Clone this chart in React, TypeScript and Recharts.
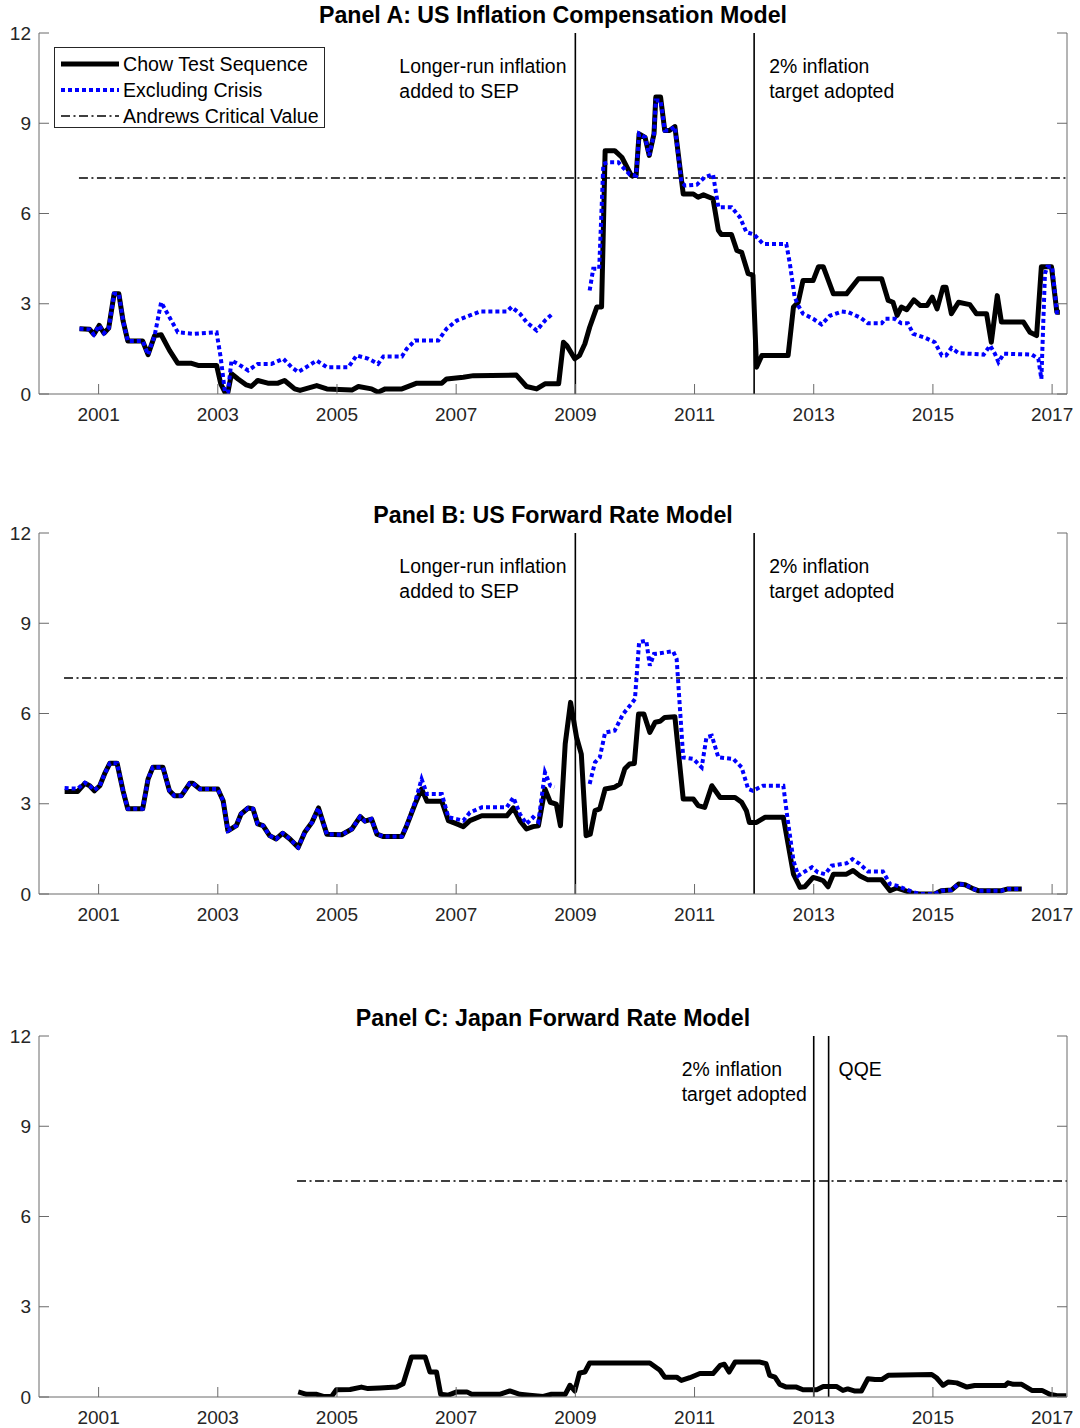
import React from "react";
import { ComposedChart, Line, XAxis, YAxis, ReferenceLine, Legend } from "recharts";

type Pt = [number, number | null];

const FONT = '"Liberation Sans", Arial, Helvetica, sans-serif';
const AXIS = "#6a6a6a";
const TEXT = "#262626";
const BLUE = "#0000ff";

const YEAR_TICKS = [2001, 2003, 2005, 2007, 2009, 2011, 2013, 2015, 2017];
const VALUE_TICKS = [0, 3, 6, 9, 12];
const X_DOMAIN: [number, number] = [2000, 2017.25];
const Y_DOMAIN: [number, number] = [0, 12];

// Andrews (1993) sup-Wald critical value and the span it is drawn over
const ANDREWS_CV = 7.18;
const CV_END = 2017.25;

// Panel A: inflation compensation model
const chowA: Pt[] = [
  [2000.68, 2.17], [2000.85, 2.15], [2000.92, 1.98], [2001.01, 2.28], [2001.09, 2.02],
  [2001.17, 2.19], [2001.26, 3.33], [2001.34, 3.33], [2001.41, 2.44], [2001.49, 1.76],
  [2001.74, 1.76], [2001.83, 1.31], [2001.94, 1.94], [2002.05, 1.97], [2002.19, 1.45],
  [2002.33, 1.02], [2002.56, 1.02], [2002.67, 0.95], [2002.98, 0.95], [2003.05, 0.34],
  [2003.12, 0.06], [2003.17, 0.06], [2003.23, 0.67], [2003.34, 0.5], [2003.48, 0.3],
  [2003.56, 0.25], [2003.67, 0.45], [2003.84, 0.36], [2004.01, 0.36], [2004.12, 0.45],
  [2004.29, 0.17], [2004.38, 0.12], [2004.66, 0.28], [2004.83, 0.17], [2005.25, 0.13],
  [2005.36, 0.25], [2005.58, 0.17], [2005.69, 0.06], [2005.81, 0.17], [2006.09, 0.17],
  [2006.34, 0.36], [2006.76, 0.36], [2006.84, 0.5], [2007.12, 0.56], [2007.29, 0.61],
  [2008.01, 0.63], [2008.18, 0.25], [2008.35, 0.17], [2008.49, 0.34], [2008.72, 0.34],
  [2008.8, 1.72], [2008.86, 1.6], [2008.99, 1.17], [2009.07, 1.28], [2009.16, 1.67],
  [2009.24, 2.22], [2009.36, 2.89], [2009.44, 2.89], [2009.5, 8.09], [2009.66, 8.09],
  [2009.78, 7.87], [2009.94, 7.26], [2010.02, 7.26], [2010.07, 8.65], [2010.17, 8.53],
  [2010.24, 7.93], [2010.32, 8.65], [2010.35, 9.87], [2010.43, 9.87], [2010.5, 8.76],
  [2010.58, 8.76], [2010.67, 8.89], [2010.81, 6.65], [2010.98, 6.65], [2011.06, 6.54],
  [2011.15, 6.62], [2011.31, 6.49], [2011.4, 5.44], [2011.45, 5.3], [2011.62, 5.3],
  [2011.71, 4.77], [2011.79, 4.71], [2011.9, 4.0], [2011.98, 3.95], [2012.04, 0.89],
  [2012.13, 1.28], [2012.57, 1.28], [2012.66, 2.89], [2012.74, 3.05], [2012.82, 3.77],
  [2012.99, 3.77], [2013.08, 4.23], [2013.16, 4.23], [2013.33, 3.33], [2013.55, 3.33],
  [2013.75, 3.83], [2014.14, 3.83], [2014.25, 3.11], [2014.33, 3.05], [2014.4, 2.61],
  [2014.47, 2.89], [2014.56, 2.8], [2014.68, 3.13], [2014.79, 2.94], [2014.9, 2.94],
  [2014.99, 3.22], [2015.07, 2.83], [2015.17, 3.55], [2015.22, 3.55], [2015.31, 2.67],
  [2015.43, 3.05], [2015.62, 2.97], [2015.73, 2.67], [2015.9, 2.67], [2015.98, 1.72],
  [2016.08, 3.27], [2016.15, 2.39], [2016.52, 2.39], [2016.63, 2.05], [2016.74, 1.94],
  [2016.82, 4.23], [2016.99, 4.23], [2017.08, 2.72], [2017.13, 2.72],
];

const exclA: Pt[] = [
  [2000.68, 2.17], [2000.85, 2.15], [2000.92, 1.98], [2001.01, 2.28], [2001.09, 2.02],
  [2001.17, 2.19], [2001.26, 3.33], [2001.34, 3.33], [2001.41, 2.44], [2001.49, 1.76],
  [2001.74, 1.76], [2001.83, 1.31], [2001.94, 1.94], [2002.05, 3.05], [2002.19, 2.55],
  [2002.33, 2.05], [2002.6, 2.0], [2002.98, 2.05], [2003.05, 1.2], [2003.12, 0.06],
  [2003.17, 0.06], [2003.23, 1.11], [2003.34, 1.0], [2003.51, 0.78], [2003.67, 1.0],
  [2003.9, 1.0], [2004.1, 1.17], [2004.24, 0.89], [2004.35, 0.73], [2004.66, 1.11],
  [2004.83, 0.89], [2005.19, 0.89], [2005.33, 1.28], [2005.53, 1.17], [2005.69, 1.0],
  [2005.78, 1.25], [2006.09, 1.25], [2006.17, 1.5], [2006.31, 1.78], [2006.7, 1.78],
  [2006.84, 2.17], [2007.01, 2.44], [2007.23, 2.61], [2007.4, 2.74], [2007.85, 2.74],
  [2007.93, 2.89], [2008.07, 2.67], [2008.18, 2.39], [2008.35, 2.11], [2008.49, 2.44],
  [2008.63, 2.69], [2008.9, null], [2009.24, 3.44], [2009.3, 4.16], [2009.4, 4.16],
  [2009.47, 7.65], [2009.55, 7.7], [2009.72, 7.7], [2009.91, 7.3], [2010.02, 7.26],
  [2010.07, 8.65], [2010.17, 8.53], [2010.24, 7.93], [2010.32, 8.65], [2010.35, 9.76],
  [2010.43, 9.76], [2010.5, 8.76], [2010.58, 8.76], [2010.67, 8.89], [2010.78, 7.04],
  [2010.84, 6.93], [2011.04, 6.96], [2011.17, 7.21], [2011.31, 7.3], [2011.4, 6.21],
  [2011.62, 6.21], [2011.76, 5.88], [2011.87, 5.38], [2012.0, 5.3], [2012.15, 4.99],
  [2012.54, 4.99], [2012.6, 4.33], [2012.68, 3.22], [2012.74, 2.94], [2012.82, 2.67],
  [2012.99, 2.5], [2013.13, 2.31], [2013.27, 2.6], [2013.47, 2.74], [2013.58, 2.72],
  [2013.79, 2.53], [2013.91, 2.35], [2014.14, 2.35], [2014.2, 2.5], [2014.36, 2.5],
  [2014.47, 2.35], [2014.58, 2.35], [2014.67, 2.0], [2014.87, 1.87], [2015.03, 1.72],
  [2015.15, 1.28], [2015.22, 1.28], [2015.31, 1.53], [2015.43, 1.36], [2015.85, 1.31],
  [2015.96, 1.61], [2016.04, 1.34], [2016.1, 1.06], [2016.19, 1.34], [2016.66, 1.31],
  [2016.77, 1.17], [2016.82, 0.5], [2016.88, 4.0], [2016.92, 4.23], [2017.0, 4.23],
  [2017.08, 2.72], [2017.13, 2.72],
];

// Panel B: US forward rate model
const chowB: Pt[] = [
  [2000.43, 3.41], [2000.65, 3.41], [2000.77, 3.68], [2000.85, 3.6], [2000.93, 3.43],
  [2001.02, 3.6], [2001.1, 3.99], [2001.19, 4.35], [2001.31, 4.35], [2001.41, 3.43],
  [2001.49, 2.83], [2001.74, 2.83], [2001.83, 3.82], [2001.91, 4.21], [2002.08, 4.21],
  [2002.19, 3.43], [2002.27, 3.27], [2002.39, 3.27], [2002.53, 3.68], [2002.58, 3.68],
  [2002.7, 3.49], [2003.0, 3.49], [2003.09, 3.1], [2003.17, 2.1], [2003.31, 2.27],
  [2003.39, 2.66], [2003.51, 2.86], [2003.59, 2.83], [2003.67, 2.33], [2003.76, 2.27],
  [2003.87, 1.94], [2003.98, 1.83], [2004.09, 2.02], [2004.21, 1.83], [2004.35, 1.55],
  [2004.46, 2.05], [2004.58, 2.38], [2004.69, 2.86], [2004.83, 1.99], [2005.08, 1.97],
  [2005.25, 2.16], [2005.39, 2.57], [2005.47, 2.42], [2005.58, 2.49], [2005.67, 1.99],
  [2005.78, 1.91], [2006.09, 1.91], [2006.17, 2.27], [2006.31, 2.99], [2006.42, 3.49],
  [2006.51, 3.08], [2006.76, 3.08], [2006.87, 2.44], [2007.01, 2.33], [2007.12, 2.24],
  [2007.23, 2.44], [2007.43, 2.6], [2007.85, 2.6], [2007.96, 2.86], [2008.07, 2.44],
  [2008.18, 2.16], [2008.29, 2.24], [2008.38, 2.27], [2008.49, 3.49], [2008.58, 3.05],
  [2008.68, 2.99], [2008.75, 2.27], [2008.83, 4.99], [2008.92, 6.37], [2009.02, 5.21],
  [2009.1, 4.65], [2009.18, 1.94], [2009.25, 1.99], [2009.33, 2.77], [2009.41, 2.83],
  [2009.5, 3.49], [2009.66, 3.55], [2009.75, 3.66], [2009.83, 4.16], [2009.91, 4.32],
  [2009.99, 4.34], [2010.06, 5.98], [2010.15, 5.98], [2010.25, 5.37], [2010.34, 5.71],
  [2010.42, 5.74], [2010.5, 5.87], [2010.67, 5.89], [2010.81, 3.16], [2010.98, 3.16],
  [2011.06, 2.94], [2011.17, 2.88], [2011.29, 3.6], [2011.43, 3.21], [2011.68, 3.21],
  [2011.79, 3.05], [2011.87, 2.77], [2011.92, 2.38], [2012.04, 2.38], [2012.18, 2.55],
  [2012.49, 2.55], [2012.57, 1.66], [2012.66, 0.66], [2012.77, 0.22], [2012.85, 0.24],
  [2012.99, 0.55], [2013.08, 0.5], [2013.16, 0.44], [2013.24, 0.24], [2013.33, 0.66],
  [2013.55, 0.66], [2013.66, 0.78], [2013.77, 0.61], [2013.91, 0.47], [2014.14, 0.47],
  [2014.28, 0.11], [2014.39, 0.2], [2014.53, 0.11], [2014.67, 0.02], [2014.78, 0.0],
  [2015.03, 0.0], [2015.14, 0.11], [2015.31, 0.13], [2015.43, 0.33], [2015.54, 0.31],
  [2015.68, 0.17], [2015.76, 0.11], [2016.15, 0.11], [2016.26, 0.17], [2016.49, 0.17],
];

const exclB: Pt[] = [
  [2000.43, 3.52], [2000.65, 3.5], [2000.77, 3.7], [2000.85, 3.6], [2000.93, 3.45],
  [2001.02, 3.6], [2001.1, 3.99], [2001.19, 4.35], [2001.31, 4.35], [2001.41, 3.43],
  [2001.49, 2.83], [2001.74, 2.83], [2001.83, 3.82], [2001.91, 4.21], [2002.08, 4.21],
  [2002.19, 3.43], [2002.27, 3.27], [2002.39, 3.27], [2002.53, 3.68], [2002.58, 3.68],
  [2002.7, 3.49], [2003.0, 3.49], [2003.09, 3.1], [2003.17, 2.1], [2003.31, 2.27],
  [2003.39, 2.66], [2003.51, 2.86], [2003.59, 2.83], [2003.67, 2.33], [2003.76, 2.27],
  [2003.87, 1.94], [2003.98, 1.83], [2004.09, 2.02], [2004.21, 1.83], [2004.35, 1.55],
  [2004.46, 2.05], [2004.58, 2.38], [2004.69, 2.86], [2004.83, 1.99], [2005.08, 1.97],
  [2005.25, 2.16], [2005.39, 2.57], [2005.47, 2.42], [2005.58, 2.49], [2005.67, 1.99],
  [2005.78, 1.91], [2006.09, 1.91], [2006.17, 2.27], [2006.31, 3.05], [2006.42, 3.82],
  [2006.51, 3.32], [2006.76, 3.32], [2006.87, 2.55], [2007.01, 2.49], [2007.12, 2.44],
  [2007.23, 2.71], [2007.43, 2.88], [2007.85, 2.88], [2007.96, 3.21], [2008.07, 2.66],
  [2008.18, 2.33], [2008.29, 2.55], [2008.38, 2.4], [2008.49, 4.04], [2008.58, 3.6],
  [2008.65, 3.55], [2008.9, null], [2009.24, 3.66], [2009.33, 4.38], [2009.41, 4.54],
  [2009.5, 5.37], [2009.66, 5.43], [2009.8, 5.98], [2009.94, 6.32], [2010.0, 6.48],
  [2010.07, 8.37], [2010.19, 8.42], [2010.25, 7.59], [2010.32, 7.98], [2010.42, 8.0],
  [2010.5, 8.03], [2010.64, 8.07], [2010.7, 7.81], [2010.81, 4.54], [2010.98, 4.49],
  [2011.12, 4.21], [2011.2, 5.21], [2011.29, 5.26], [2011.4, 4.54], [2011.65, 4.49],
  [2011.79, 4.21], [2011.9, 3.49], [2011.98, 3.43], [2012.15, 3.6], [2012.49, 3.6],
  [2012.55, 2.66], [2012.66, 1.11], [2012.74, 0.61], [2012.88, 0.78], [2012.97, 0.89],
  [2013.07, 0.72], [2013.19, 0.66], [2013.3, 0.94], [2013.55, 1.02], [2013.65, 1.16],
  [2013.77, 1.0], [2013.91, 0.75], [2014.16, 0.75], [2014.28, 0.33], [2014.39, 0.28],
  [2014.53, 0.17], [2014.67, 0.06], [2014.78, 0.0], [2015.03, 0.0], [2015.14, 0.11],
  [2015.31, 0.13], [2015.43, 0.33], [2015.54, 0.31], [2015.68, 0.17], [2015.76, 0.11],
  [2016.15, 0.11], [2016.26, 0.17], [2016.49, 0.17],
];

// Panel C: Japan forward rate model
const chowC: Pt[] = [
  [2004.35, 0.17], [2004.49, 0.09], [2004.66, 0.09], [2004.77, 0.02], [2004.91, 0.02],
  [2004.99, 0.24], [2005.22, 0.25], [2005.41, 0.33], [2005.52, 0.28], [2005.72, 0.3],
  [2006.0, 0.33], [2006.11, 0.44], [2006.25, 1.33], [2006.48, 1.33], [2006.56, 0.83],
  [2006.67, 0.83], [2006.74, 0.09], [2006.87, 0.06], [2007.01, 0.17], [2007.18, 0.17],
  [2007.26, 0.09], [2007.73, 0.09], [2007.9, 0.2], [2008.07, 0.09], [2008.23, 0.06],
  [2008.46, 0.02], [2008.6, 0.09], [2008.83, 0.09], [2008.91, 0.39], [2008.99, 0.2],
  [2009.07, 0.8], [2009.16, 0.83], [2009.24, 1.13], [2010.25, 1.13], [2010.42, 0.89],
  [2010.5, 0.66], [2010.7, 0.66], [2010.78, 0.55], [2010.92, 0.64], [2011.09, 0.78],
  [2011.31, 0.78], [2011.43, 1.05], [2011.5, 1.09], [2011.58, 0.83], [2011.68, 1.16],
  [2012.1, 1.16], [2012.2, 1.11], [2012.26, 0.72], [2012.35, 0.66], [2012.43, 0.42],
  [2012.54, 0.33], [2012.71, 0.33], [2012.82, 0.24], [2013.05, 0.24], [2013.16, 0.35],
  [2013.38, 0.35], [2013.49, 0.22], [2013.57, 0.27], [2013.68, 0.2], [2013.8, 0.2],
  [2013.91, 0.61], [2014.03, 0.58], [2014.14, 0.58], [2014.25, 0.72], [2014.98, 0.75],
  [2015.06, 0.64], [2015.17, 0.39], [2015.26, 0.5], [2015.4, 0.47], [2015.57, 0.33],
  [2015.7, 0.38], [2016.21, 0.38], [2016.26, 0.47], [2016.35, 0.42], [2016.49, 0.42],
  [2016.66, 0.22], [2016.83, 0.22], [2016.96, 0.09], [2017.08, 0.04], [2017.24, 0.04],
];

type EventMark = { x: number; lines: string[]; dx: number };

const US_EVENTS: EventMark[] = [
  { x: 2009.0, lines: ["Longer-run inflation", "added to SEP"], dx: -176 },
  { x: 2012.0, lines: ["2% inflation", "target adopted"], dx: 15 },
];

const JP_EVENTS: EventMark[] = [
  { x: 2013.0, lines: ["2% inflation", "target adopted"], dx: -132 },
  { x: 2013.25, lines: ["QQE"], dx: 10 },
];

const LEGEND_ITEMS = [
  { name: "Chow Test Sequence", stroke: "#000", width: 5, dash: undefined },
  { name: "Excluding Crisis", stroke: BLUE, width: 4, dash: "4 3" },
  { name: "Andrews Critical Value", stroke: "#000", width: 1.3, dash: "9 3.5 2 3.5" },
];

const toRows = (pts: Pt[]) => pts.map(([x, y]) => ({ x, y }));

function EventNote({ viewBox, lines, dx }: any) {
  if (!viewBox) return null;
  const x = viewBox.x + dx;
  return (
    <text x={x} y={viewBox.y} fontFamily={FONT} fontSize={19.4} fill="#000">
      {lines.map((s: string, i: number) => (
        <tspan key={s} x={x} dy={i === 0 ? 40 : 25}>
          {s}
        </tspan>
      ))}
    </text>
  );
}

function LegendBox() {
  return (
    <div
      style={{
        width: 269,
        height: 79,
        border: "1px solid #262626",
        background: "#fff",
        position: "relative",
        fontFamily: FONT,
        fontSize: 19.6,
        color: "#000",
      }}
    >
      {LEGEND_ITEMS.map((it, i) => (
        <div
          key={it.name}
          style={{
            position: "absolute",
            left: 0,
            top: 3 + i * 26,
            height: 26,
            display: "flex",
            alignItems: "center",
            whiteSpace: "nowrap",
          }}
        >
          <svg width={68} height={26} style={{ display: "block" }}>
            <line x1={6} x2={64} y1={13} y2={13} stroke={it.stroke} strokeWidth={it.width} strokeDasharray={it.dash} />
          </svg>
          <span>{it.name}</span>
        </div>
      ))}
    </div>
  );
}

interface PanelProps {
  title: string;
  top: number;
  chow: Pt[];
  excl?: Pt[];
  cvFrom: number;
  events: EventMark[];
  legend?: boolean;
}

function Panel({ title, top, chow, excl, cvFrom, events, legend }: PanelProps) {
  const blank = () => "";
  return (
    <div style={{ position: "absolute", left: 0, top, width: 1080, height: 470 }}>
      <div
        style={{
          position: "absolute",
          top: 2,
          left: 39,
          width: 1028,
          textAlign: "center",
          fontFamily: FONT,
          fontWeight: 700,
          fontSize: 23.2,
          lineHeight: "26px",
          color: "#000",
        }}
      >
        {title}
      </div>
      <ComposedChart width={1080} height={470} margin={{ top: 33, right: 0, bottom: 0, left: 0 }}>
        <XAxis
          xAxisId="b"
          type="number"
          dataKey="x"
          domain={X_DOMAIN}
          ticks={YEAR_TICKS}
          interval={0}
          allowDataOverflow
          height={76}
          tickSize={-10}
          tickMargin={24}
          stroke={AXIS}
          tick={{ fill: TEXT, fontSize: 19, fontFamily: FONT }}
        />
        <XAxis
          xAxisId="t"
          orientation="top"
          type="number"
          dataKey="x"
          domain={X_DOMAIN}
          ticks={YEAR_TICKS}
          interval={0}
          allowDataOverflow
          height={0}
          tickSize={-10}
          tickFormatter={blank}
          stroke={AXIS}
        />
        <YAxis
          yAxisId="l"
          type="number"
          domain={Y_DOMAIN}
          ticks={VALUE_TICKS}
          interval={0}
          allowDataOverflow
          width={39}
          tickSize={-10}
          tickMargin={18}
          stroke={AXIS}
          tick={{ fill: TEXT, fontSize: 19, fontFamily: FONT }}
        />
        <YAxis
          yAxisId="r"
          orientation="right"
          type="number"
          domain={Y_DOMAIN}
          ticks={VALUE_TICKS}
          interval={0}
          allowDataOverflow
          width={13}
          tickSize={-10}
          tickFormatter={blank}
          stroke={AXIS}
        />
        <ReferenceLine
          xAxisId="b"
          yAxisId="l"
          segment={[
            { x: cvFrom, y: ANDREWS_CV },
            { x: CV_END, y: ANDREWS_CV },
          ]}
          stroke="#000"
          strokeWidth={1.3}
          strokeDasharray="9 3.5 2 3.5"
        />
        {events.map((ev) => (
          <ReferenceLine
            key={ev.x}
            xAxisId="b"
            yAxisId="l"
            x={ev.x}
            stroke="#000"
            strokeWidth={1.6}
            label={<EventNote lines={ev.lines} dx={ev.dx} />}
          />
        ))}
        <Line
          xAxisId="b"
          yAxisId="l"
          data={toRows(chow)}
          dataKey="y"
          stroke="#000"
          strokeWidth={5}
          strokeLinejoin="round"
          dot={false}
          activeDot={false}
          isAnimationActive={false}
        />
        {excl && (
          <Line
            xAxisId="b"
            yAxisId="l"
            data={toRows(excl)}
            dataKey="y"
            stroke={BLUE}
            strokeWidth={4}
            strokeDasharray="4 3"
            dot={false}
            activeDot={false}
            connectNulls={false}
            isAnimationActive={false}
          />
        )}
        {legend && (
          <Legend
            layout="horizontal"
            verticalAlign="middle"
            align="center"
            content={() => <LegendBox />}
            wrapperStyle={{ left: 54, top: 47, width: 271, height: 81 }}
          />
        )}
      </ComposedChart>
    </div>
  );
}

export default function App() {
  return (
    <div style={{ position: "absolute", left: 0, top: 0, width: 1080, height: 1428, background: "#fff" }}>
      <Panel
        title="Panel A: US Inflation Compensation Model"
        top={0}
        chow={chowA}
        excl={exclA}
        cvFrom={2000.67}
        events={US_EVENTS}
        legend
      />
      <Panel
        title="Panel B: US Forward Rate Model"
        top={500}
        chow={chowB}
        excl={exclB}
        cvFrom={2000.42}
        events={US_EVENTS}
      />
      <Panel
        title="Panel C: Japan Forward Rate Model"
        top={1003}
        chow={chowC}
        cvFrom={2004.33}
        events={JP_EVENTS}
      />
    </div>
  );
}
